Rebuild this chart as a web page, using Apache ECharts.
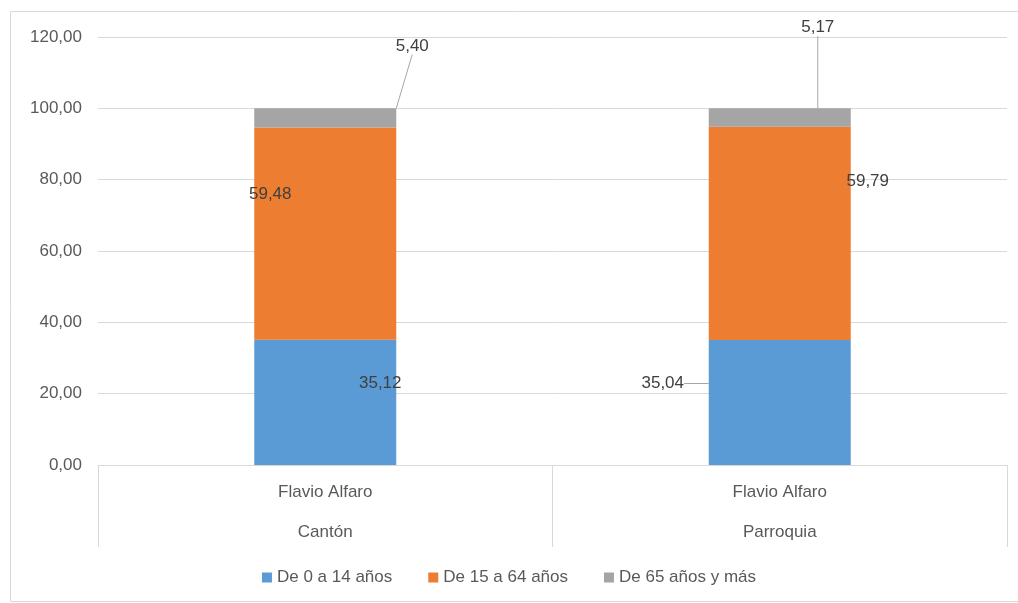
<!DOCTYPE html>
<html>
<head>
<meta charset="utf-8">
<script src="https://cdn.jsdelivr.net/npm/echarts@6/dist/echarts.min.js"></script>
<style>html,body{margin:0;padding:0;background:#fff;}#c{width:1018px;height:603px;}</style>
</head>
<body>
<div id="c"></div>
<script>
var places = ['Flavio Alfaro', 'Flavio Alfaro'];
var levels = ['Cantón', 'Parroquia'];
var seriesNames = ['De 0 a 14 años', 'De 15 a 64 años', 'De 65 años y más'];
var young = [35.12, 35.04];
var adult = [59.48, 59.79];
var elder = [5.40, 5.17];
var yTicks = [0, 20, 40, 60, 80, 100, 120];

var colors = ['#5b9bd5', '#ed7d31', '#a5a5a5'];
// label displacement (px) relative to the default inside position, per series / category
var labelShift = [
  [{dx: 55, dy: -19, line: false}, {dx: -117, dy: -19, line: true}],
  [{dx: -55, dy: -39, line: false}, {dx: 88, dy: -52, line: false}],
  [{dx: 87, dy: -72, line: true}, {dx: 38, dy: -90, line: true}]
];
function fmt(v) { return v.toFixed(2).replace('.', ','); }
var FONT = 'Liberation Sans';
var FS = 17;

function mkSeries(idx, vals) {
  return {
    name: seriesNames[idx],
    type: 'bar',
    stack: 'total',
    barWidth: 142,
    itemStyle: {color: colors[idx]},
    data: vals.map(function (v, i) {
      return {value: v, labelLine: {show: labelShift[idx][i].line}};
    }),
    label: {
      show: true,
      position: 'inside',
      color: '#404040',
      fontSize: FS,
      fontFamily: FONT,
      formatter: function (p) { return fmt(p.value); }
    },
    labelLine: {show: true, lineStyle: {color: '#a6a6a6', width: 1}},
    labelLayout: function (p) {
      var s = labelShift[idx][p.dataIndex];
      return {dx: s.dx, dy: s.dy};
    }
  };
}

var chart = echarts.init(document.getElementById('c'));
chart.setOption({
  animation: false,
  textStyle: {fontFamily: FONT},
  graphic: [{
    type: 'rect', silent: true, z: -10,
    shape: {x: 10.5, y: 11.5, width: 1010, height: 590},
    style: {fill: 'none', stroke: '#d9d9d9', lineWidth: 1}
  }],
  grid: {left: 98, right: 11, top: 37, bottom: 138},
  legend: {
    bottom: 12,
    left: 'center',
    itemWidth: 10, itemHeight: 10, itemGap: 36,
    icon: 'rect',
    textStyle: {color: '#595959', fontSize: FS, fontFamily: FONT},
    data: seriesNames
  },
  xAxis: [{
    type: 'category',
    data: places,
    axisLine: {show: true, lineStyle: {color: '#d9d9d9'}},
    axisTick: {show: true, length: 82, interval: 0, lineStyle: {color: '#d9d9d9'}},
    axisLabel: {color: '#595959', fontSize: FS, margin: 19, fontFamily: FONT}
  }, {
    type: 'category',
    data: levels,
    position: 'bottom',
    offset: 40,
    axisLine: {show: false},
    axisTick: {show: false},
    axisLabel: {color: '#595959', fontSize: FS, margin: 19, fontFamily: FONT}
  }],
  yAxis: {
    type: 'value',
    min: yTicks[0],
    max: yTicks[yTicks.length - 1],
    interval: yTicks[1] - yTicks[0],
    axisLine: {show: false},
    axisTick: {show: false},
    splitLine: {lineStyle: {color: '#d9d9d9'}},
    axisLabel: {color: '#595959', fontSize: FS, margin: 16, fontFamily: FONT,
      formatter: function (v) { return fmt(v); }}
  },
  series: [mkSeries(0, young), mkSeries(1, adult), mkSeries(2, elder)]
});
</script>
</body>
</html>
